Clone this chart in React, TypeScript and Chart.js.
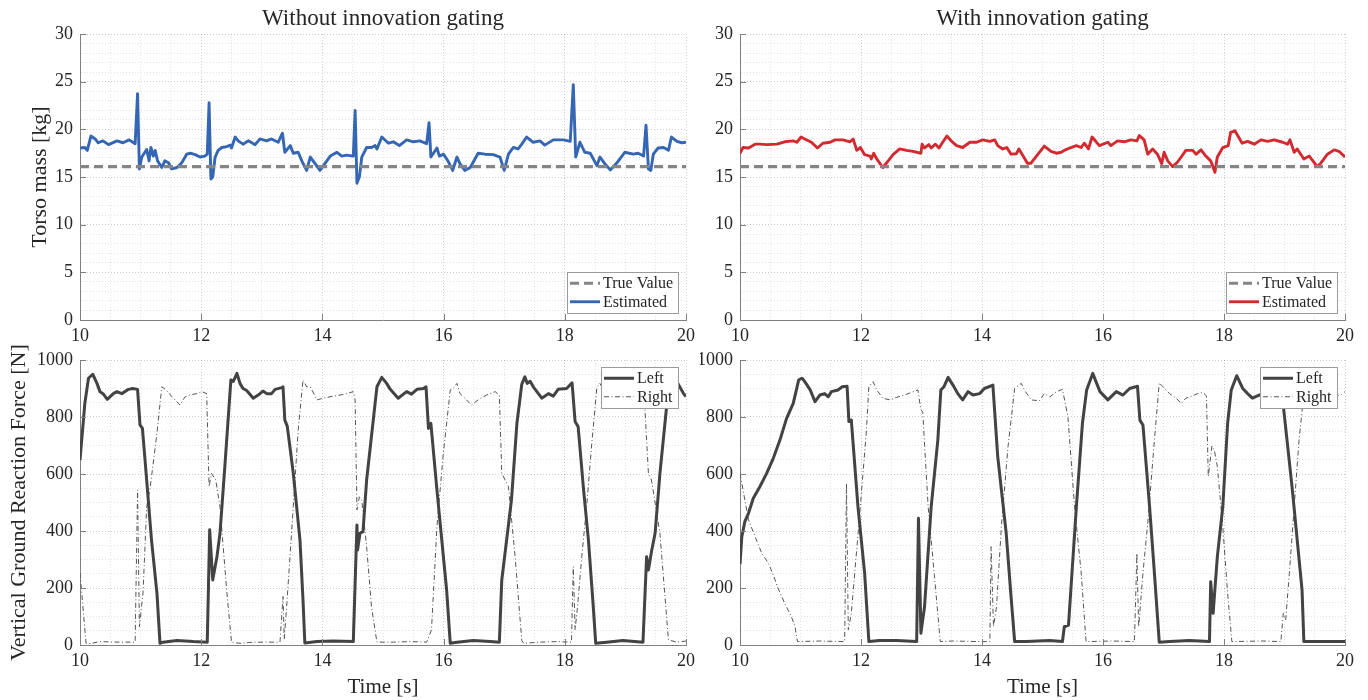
import React, { useEffect, useRef } from "react";
import { Chart, registerables } from "chart.js";

Chart.register(...registerables);

const FONT = "'Liberation Serif', 'Times New Roman', serif";
const TEXT = "#262626";
const AXIS = "#808080";
const MAJOR_GRID = "rgba(0,0,0,0.20)";
const MINOR_GRID = "rgba(0,0,0,0.11)";

// ---------- texts ----------
const panelTitles = ["Without innovation gating", "With innovation gating"];
const massAxisTitle = "Torso mass [kg]";
const grfAxisTitle = "Vertical Ground Reaction Force [N]";
const timeAxisTitle = "Time [s]";
const massLegend = ["True Value", "Estimated"];
const grfLegend = ["Left", "Right"];

// ---------- true torso mass ----------
const trueT = [10, 20];
const trueMass = [16.1, 16.1];

// ---------- estimated torso mass, without gating ----------
const noGateT = [10.0, 10.08, 10.12, 10.18, 10.25, 10.3, 10.38, 10.47, 10.61, 10.71, 10.81, 10.91, 10.95, 10.98, 11.02, 11.1, 11.14, 11.17, 11.21, 11.24, 11.28, 11.35, 11.4, 11.46, 11.51, 11.6, 11.68, 11.76, 11.82, 11.9, 11.98, 12.06, 12.1, 12.13, 12.16, 12.19, 12.23, 12.28, 12.34, 12.42, 12.48, 12.5, 12.56, 12.61, 12.69, 12.78, 12.89, 12.97, 13.08, 13.16, 13.27, 13.34, 13.38, 13.47, 13.52, 13.6, 13.66, 13.74, 13.8, 13.88, 13.96, 14.04, 14.13, 14.24, 14.32, 14.4, 14.51, 14.54, 14.57, 14.61, 14.65, 14.73, 14.81, 14.87, 14.9, 14.98, 15.09, 15.17, 15.27, 15.39, 15.5, 15.61, 15.72, 15.76, 15.79, 15.89, 15.93, 16.0, 16.08, 16.15, 16.22, 16.27, 16.35, 16.44, 16.57, 16.68, 16.82, 16.93, 17.0, 17.07, 17.15, 17.23, 17.29, 17.37, 17.48, 17.59, 17.67, 17.81, 17.98, 18.09, 18.14, 18.18, 18.25, 18.33, 18.42, 18.53, 18.58, 18.66, 18.75, 18.86, 18.99, 19.13, 19.21, 19.3, 19.34, 19.38, 19.42, 19.46, 19.54, 19.63, 19.71, 19.76, 19.85, 19.93, 20.0];
const noGateMass = [18.05, 18.1, 17.8, 19.3, 19.0, 18.6, 18.8, 18.4, 18.8, 18.6, 18.9, 18.5, 23.75, 15.85, 17.1, 17.9, 16.7, 18.1, 17.2, 17.8, 16.7, 16.0, 16.7, 16.5, 15.85, 16.0, 16.5, 17.4, 17.5, 17.35, 17.1, 17.2, 17.4, 22.8, 14.8, 15.0, 17.1, 17.8, 18.1, 18.2, 18.35, 18.05, 19.2, 18.8, 18.45, 18.8, 18.4, 19.0, 18.8, 19.0, 18.65, 19.6, 17.6, 18.3, 17.5, 17.6, 16.7, 15.7, 17.1, 16.4, 15.7, 16.4, 17.2, 17.6, 17.2, 17.3, 17.2, 22.0, 14.35, 15.0, 17.1, 18.1, 18.1, 18.3, 17.95, 19.2, 18.55, 18.7, 18.3, 18.9, 18.7, 18.8, 18.5, 20.7, 17.1, 18.05, 17.2, 17.4, 16.6, 15.7, 17.1, 16.4, 15.7, 16.0, 17.5, 17.4, 17.35, 17.1, 15.7, 17.4, 18.1, 17.95, 18.45, 19.2, 18.65, 18.8, 18.35, 18.9, 18.9, 18.75, 24.7, 17.1, 18.65, 17.6, 17.5, 16.2, 17.1, 16.4, 15.75, 16.5, 17.6, 17.4, 17.5, 17.2, 20.45, 15.85, 15.7, 17.4, 18.05, 18.1, 17.8, 19.2, 18.75, 18.6, 18.65];

// ---------- estimated torso mass, with gating ----------
const gateT = [10.0, 10.05, 10.14, 10.25, 10.33, 10.44, 10.61, 10.74, 10.88, 10.94, 11.01, 11.07, 11.18, 11.28, 11.37, 11.49, 11.57, 11.7, 11.82, 11.87, 11.93, 11.99, 12.06, 12.15, 12.17, 12.21, 12.26, 12.36, 12.45, 12.53, 12.64, 12.75, 12.86, 12.99, 13.01, 13.05, 13.12, 13.16, 13.23, 13.29, 13.35, 13.42, 13.49, 13.58, 13.68, 13.8, 13.91, 14.01, 14.13, 14.21, 14.26, 14.34, 14.41, 14.48, 14.57, 14.61, 14.68, 14.75, 14.81, 14.9, 15.03, 15.14, 15.23, 15.31, 15.36, 15.47, 15.56, 15.64, 15.69, 15.76, 15.82, 15.94, 16.08, 16.13, 16.24, 16.35, 16.46, 16.56, 16.6, 16.68, 16.74, 16.82, 16.9, 16.97, 17.01, 17.07, 17.15, 17.23, 17.37, 17.48, 17.54, 17.62, 17.7, 17.78, 17.85, 17.89, 17.98, 18.07, 18.11, 18.18, 18.24, 18.3, 18.39, 18.5, 18.61, 18.72, 18.83, 18.97, 19.05, 19.09, 19.16, 19.21, 19.32, 19.41, 19.54, 19.6, 19.71, 19.82, 19.9, 20.0];
const gateMass = [17.5, 18.1, 18.05, 18.45, 18.45, 18.4, 18.45, 18.7, 18.8, 18.65, 19.2, 19.0, 18.65, 18.05, 18.55, 18.65, 18.9, 18.9, 18.7, 19.0, 17.8, 18.1, 17.35, 17.2, 16.9, 17.5, 16.9, 16.0, 16.7, 17.35, 17.95, 17.8, 17.7, 17.5, 18.45, 18.05, 18.4, 18.05, 18.45, 18.05, 18.65, 19.3, 18.8, 18.3, 18.1, 18.65, 18.65, 18.9, 18.75, 18.9, 18.3, 17.95, 18.1, 17.4, 17.45, 17.95, 17.2, 16.45, 16.45, 17.2, 18.25, 17.7, 17.5, 17.6, 17.8, 18.1, 18.3, 18.1, 18.55, 17.95, 19.2, 18.3, 18.65, 18.3, 18.8, 18.7, 18.9, 18.8, 19.35, 18.9, 17.4, 17.95, 17.4, 16.4, 17.6, 16.7, 16.1, 16.55, 17.8, 17.8, 17.4, 17.85, 17.2, 16.7, 15.5, 17.1, 18.1, 18.3, 19.7, 19.85, 19.2, 18.55, 18.75, 18.45, 18.9, 18.75, 18.9, 18.65, 18.45, 18.9, 17.6, 17.95, 16.9, 17.2, 16.1, 16.45, 17.4, 17.85, 17.7, 17.1];

// ---------- vertical GRF, without gating ----------
const grfNoGateLeftT = [10.0, 10.08, 10.14, 10.21, 10.28, 10.33, 10.38, 10.45, 10.55, 10.61, 10.69, 10.8, 10.87, 10.95, 10.99, 11.03, 11.1, 11.18, 11.27, 11.32, 11.37, 11.6, 11.87, 12.1, 12.14, 12.19, 12.26, 12.31, 12.39, 12.49, 12.53, 12.59, 12.64, 12.69, 12.75, 12.86, 12.94, 13.02, 13.08, 13.16, 13.22, 13.33, 13.35, 13.38, 13.42, 13.52, 13.63, 13.68, 13.71, 13.91, 14.18, 14.51, 14.57, 14.58, 14.62, 14.67, 14.73, 14.9, 14.98, 15.06, 15.12, 15.25, 15.39, 15.47, 15.56, 15.67, 15.71, 15.75, 15.79, 15.89, 15.97, 16.05, 16.11, 16.22, 16.49, 16.77, 16.92, 16.96, 17.04, 17.12, 17.21, 17.29, 17.34, 17.38, 17.43, 17.48, 17.62, 17.73, 17.81, 17.89, 18.03, 18.12, 18.17, 18.22, 18.31, 18.39, 18.47, 18.51, 18.69, 18.96, 19.29, 19.35, 19.38, 19.43, 19.49, 19.57, 19.68, 19.85, 19.96, 20.0];
const grfNoGateLeft = [649, 848, 936, 950, 918, 889, 882, 862, 882, 889, 882, 897, 900, 897, 772, 760, 579, 368, 181, 6, 10, 16, 12, 10, 404, 228, 310, 392, 626, 930, 925, 953, 918, 900, 893, 866, 877, 891, 882, 882, 897, 903, 906, 789, 768, 602, 368, 158, 7, 12, 14, 12, 421, 333, 392, 398, 579, 906, 939, 918, 897, 866, 889, 880, 897, 900, 906, 760, 778, 544, 368, 193, 6, 10, 16, 12, 10, 228, 368, 509, 778, 915, 941, 918, 925, 906, 866, 882, 873, 897, 900, 920, 784, 766, 544, 368, 134, 6, 10, 16, 10, 310, 263, 327, 392, 602, 836, 924, 882, 872];
const grfNoGateRightT = [10.0, 10.1, 10.17, 10.33, 10.61, 10.91, 10.95, 10.98, 11.04, 11.1, 11.16, 11.27, 11.35, 11.43, 11.51, 11.65, 11.73, 11.82, 11.93, 12.01, 12.09, 12.13, 12.17, 12.24, 12.31, 12.42, 12.5, 12.64, 12.86, 13.3, 13.35, 13.37, 13.41, 13.52, 13.6, 13.68, 13.74, 13.8, 13.91, 14.01, 14.18, 14.29, 14.4, 14.51, 14.54, 14.57, 14.61, 14.65, 14.73, 14.81, 14.9, 15.17, 15.45, 15.72, 15.8, 15.89, 15.99, 16.11, 16.16, 16.22, 16.27, 16.35, 16.46, 16.57, 16.71, 16.85, 16.92, 16.96, 17.07, 17.18, 17.29, 17.32, 17.59, 17.87, 18.11, 18.14, 18.17, 18.21, 18.28, 18.36, 18.45, 18.53, 18.58, 18.63, 18.75, 19.0, 19.24, 19.32, 19.38, 19.43, 19.57, 19.71, 19.85, 20.0];
const grfNoGateRight = [252, 6, 5, 12, 10, 10, 544, 64, 182, 485, 556, 743, 906, 893, 873, 842, 870, 878, 882, 889, 882, 556, 602, 579, 485, 193, 10, 6, 10, 10, 170, 21, 134, 485, 754, 930, 906, 906, 860, 866, 873, 877, 882, 889, 860, 474, 520, 508, 345, 134, 10, 10, 12, 10, 53, 415, 661, 895, 900, 918, 882, 866, 842, 860, 877, 889, 877, 602, 556, 310, 16, 6, 10, 12, 10, 275, 53, 134, 310, 485, 719, 906, 918, 897, 890, 880, 885, 836, 602, 579, 392, 18, 10, 14];

// ---------- vertical GRF, with gating ----------
const grfGateLeftT = [10.0, 10.03, 10.08, 10.14, 10.22, 10.33, 10.44, 10.55, 10.66, 10.77, 10.88, 10.97, 11.02, 11.04, 11.09, 11.16, 11.24, 11.32, 11.4, 11.46, 11.51, 11.62, 11.69, 11.77, 11.8, 11.84, 11.95, 12.06, 12.13, 12.31, 12.59, 12.92, 12.95, 12.99, 13.05, 13.16, 13.27, 13.32, 13.37, 13.44, 13.52, 13.6, 13.68, 13.77, 13.85, 13.96, 14.04, 14.18, 14.26, 14.4, 14.48, 14.54, 14.73, 15.12, 15.33, 15.36, 15.43, 15.56, 15.66, 15.73, 15.83, 15.95, 16.08, 16.22, 16.33, 16.44, 16.57, 16.61, 16.66, 16.77, 16.85, 16.93, 17.1, 17.43, 17.76, 17.78, 17.82, 17.89, 17.98, 18.06, 18.12, 18.21, 18.31, 18.39, 18.47, 18.58, 18.75, 18.88, 18.97, 19.13, 19.29, 19.32, 19.62, 20.0];
const grfGateLeft = [284, 380, 433, 462, 515, 556, 602, 655, 719, 795, 848, 930, 936, 933, 918, 895, 854, 877, 882, 871, 889, 895, 906, 908, 784, 789, 485, 252, 12, 16, 16, 12, 445, 41, 134, 485, 719, 895, 906, 939, 912, 882, 860, 889, 877, 882, 900, 912, 661, 392, 170, 12, 12, 16, 12, 64, 70, 485, 778, 895, 953, 889, 860, 889, 877, 900, 908, 789, 772, 485, 252, 10, 12, 16, 12, 222, 111, 310, 485, 778, 895, 945, 900, 882, 866, 877, 890, 900, 860, 544, 193, 12, 12, 12];
const grfGateRightT = [10.0, 10.05, 10.14, 10.25, 10.36, 10.47, 10.55, 10.63, 10.74, 10.85, 10.91, 10.95, 11.32, 11.73, 11.76, 11.79, 11.84, 11.98, 12.09, 12.13, 12.2, 12.26, 12.36, 12.48, 12.59, 12.72, 12.83, 12.94, 12.99, 13.02, 13.11, 13.22, 13.31, 13.52, 13.96, 14.13, 14.15, 14.19, 14.24, 14.32, 14.43, 14.54, 14.65, 14.7, 14.81, 14.95, 15.03, 15.12, 15.23, 15.33, 15.42, 15.53, 15.64, 15.72, 16.16, 16.52, 16.56, 16.59, 16.66, 16.74, 16.85, 16.93, 16.99, 17.1, 17.21, 17.29, 17.37, 17.48, 17.56, 17.65, 17.71, 17.74, 17.8, 17.84, 17.89, 17.98, 18.06, 18.13, 18.64, 18.94, 18.98, 19.02, 19.08, 19.16, 19.24, 19.31, 19.49, 19.74, 19.93, 20.0];
const grfGateRight = [602, 544, 439, 380, 322, 287, 246, 199, 146, 99, 64, 12, 14, 12, 567, 53, 111, 462, 754, 906, 924, 895, 866, 860, 869, 877, 886, 895, 825, 819, 485, 228, 12, 14, 12, 12, 345, 64, 134, 415, 696, 901, 918, 895, 860, 857, 882, 870, 889, 897, 801, 485, 252, 12, 14, 12, 322, 64, 252, 427, 719, 920, 906, 882, 866, 848, 866, 874, 882, 886, 874, 591, 698, 684, 626, 415, 181, 12, 14, 12, 111, 88, 252, 485, 719, 860, 880, 875, 877, 889];

// ---------- styles ----------
const BLUE = "#3566b4";
const RED = "#d22a2f";
const TRUE_GRAY = "#858585";
const LEFT_GRAY = "#434343";
const RIGHT_GRAY = "#555555";
const TRUE_DASH = [9, 5];
const RIGHT_DASH = [5, 2.5, 1, 2.5];

const pts = (t: number[], v: number[]) => t.map((x, i) => ({ x, y: v[i] }));
const isMult = (v: number, m: number) => Math.abs(v / m - Math.round(v / m)) < 1e-6;

type LegItem = { label: string; color: string; width: number; dash: number[] };

function legendPlugin(items: LegItem[], where: "top" | "bottom") {
  return {
    id: "matLegend",
    afterDraw(chart: any) {
      const { ctx, chartArea: a } = chart;
      ctx.save();
      ctx.font = `16px ${FONT}`;
      const textW = Math.max(...items.map((i) => ctx.measureText(i.label).width));
      const sample = 30, padL = 3, gap = 3, padR = 5, rowH = 18.5;
      const w = Math.round(padL + sample + gap + textW + padR);
      const h = Math.round(items.length * rowH + 4);
      const x = Math.round(a.right - 8 - w);
      const y = Math.round(where === "top" ? a.top + 7 : a.bottom - 7 - h);
      ctx.fillStyle = "#ffffff";
      ctx.fillRect(x, y, w, h);
      ctx.strokeStyle = "#9a9a9a";
      ctx.lineWidth = 1;
      ctx.setLineDash([]);
      ctx.strokeRect(x + 0.5, y + 0.5, w, h);
      items.forEach((it, i) => {
        const cy = y + 2 + rowH * (i + 0.5);
        ctx.beginPath();
        ctx.setLineDash(it.dash);
        ctx.strokeStyle = it.color;
        ctx.lineWidth = it.width;
        ctx.moveTo(x + padL, cy);
        ctx.lineTo(x + padL + sample, cy);
        ctx.stroke();
        ctx.setLineDash([]);
        ctx.fillStyle = TEXT;
        ctx.textBaseline = "middle";
        ctx.textAlign = "left";
        ctx.fillText(it.label, x + padL + sample + gap, cy + 1);
      });
      ctx.restore();
    },
  };
}

function tickPlugin(xMajor: number, yMajor: number) {
  return {
    id: "inwardTicks",
    afterDatasetsDraw(chart: any) {
      const { ctx, chartArea: a, scales } = chart;
      ctx.save();
      ctx.strokeStyle = AXIS;
      ctx.lineWidth = 1;
      ctx.beginPath();
      scales.x.ticks.forEach((t: any) => {
        if (!isMult(t.value, xMajor)) return;
        const px = Math.round(scales.x.getPixelForValue(t.value)) + 0.5;
        ctx.moveTo(px, a.bottom);
        ctx.lineTo(px, a.bottom - 6);
      });
      scales.y.ticks.forEach((t: any) => {
        if (!isMult(t.value, yMajor)) return;
        const py = Math.round(scales.y.getPixelForValue(t.value)) + 0.5;
        ctx.moveTo(a.left, py);
        ctx.lineTo(a.left + 6, py);
      });
      ctx.stroke();
      ctx.restore();
    },
  };
}

function zeroPad(s: any) {
  s.paddingLeft = 0;
  s.paddingRight = 0;
  s.paddingTop = 0;
  s.paddingBottom = 0;
}

function xScale(showTitle: boolean, height: number) {
  return {
    type: "linear",
    min: 10,
    max: 20,
    ticks: {
      stepSize: 0.5,
      autoSkip: false,
      maxRotation: 0,
      minRotation: 0,
      padding: 5,
      color: TEXT,
      font: { family: FONT, size: 18 },
      callback: (v: number) => (isMult(v, 2) ? String(Math.round(v)) : ""),
    },
    grid: {
      drawTicks: false,
      lineWidth: 1,
      color: (c: any) => (c.tick && isMult(c.tick.value, 2) ? MAJOR_GRID : MINOR_GRID),
    },
    border: { display: true, color: AXIS, width: 1, dash: [1, 2] },
    title: {
      display: showTitle,
      text: timeAxisTitle,
      color: TEXT,
      font: { family: FONT, size: 21 },
      padding: { top: 0, bottom: 0 },
    },
    afterFit: (s: any) => {
      s.height = height;
      zeroPad(s);
    },
  };
}

function yScale(max: number, step: number, major: number, title: string, showTitle: boolean, titlePad: number, width: number) {
  return {
    type: "linear",
    min: 0,
    max,
    ticks: {
      stepSize: step,
      autoSkip: false,
      padding: 7,
      color: TEXT,
      font: { family: FONT, size: 18 },
      callback: (v: number) => (isMult(v, major) ? String(Math.round(v)) : ""),
    },
    grid: {
      drawTicks: false,
      lineWidth: 1,
      color: (c: any) => (c.tick && isMult(c.tick.value, major) ? MAJOR_GRID : MINOR_GRID),
    },
    border: { display: true, color: AXIS, width: 1, dash: [1, 2] },
    title: {
      display: showTitle,
      text: title,
      color: TEXT,
      font: { family: FONT, size: 22 },
      padding: { top: titlePad, bottom: 0 },
    },
    afterFit: (s: any) => {
      s.width = width;
      zeroPad(s);
    },
  };
}

function massConfig(idx: number, estT: number[], estV: number[], color: string) {
  const leftSide = idx === 0;
  return {
    type: "line",
    data: {
      datasets: [
        {
          label: massLegend[0],
          data: pts(trueT, trueMass),
          borderColor: TRUE_GRAY,
          borderWidth: 3.2,
          borderDash: TRUE_DASH,
          pointRadius: 0,
          tension: 0,
        },
        {
          label: massLegend[1],
          data: pts(estT, estV),
          borderColor: color,
          borderWidth: 2.9,
          borderJoinStyle: "round",
          pointRadius: 0,
          tension: 0,
        },
      ],
    },
    options: {
      animation: false,
      responsive: false,
      devicePixelRatio: 1,
      events: [],
      layout: { padding: { left: 0, right: leftSide ? 14 : 23, top: 0, bottom: 0 } },
      scales: {
        x: xScale(false, 25),
        y: yScale(30, 1, 5, massAxisTitle, leftSide, 27.3, leftSide ? 80 : 40),
      },
      plugins: {
        legend: { display: false },
        tooltip: { enabled: false },
        title: {
          display: true,
          text: panelTitles[idx],
          fullSize: false,
          color: TEXT,
          font: { family: FONT, size: 23, weight: "normal", lineHeight: 1.2 },
          padding: { top: 5.5, bottom: 1 },
        },
      },
    },
    plugins: [
      tickPlugin(2, 5),
      legendPlugin(
        [
          { label: massLegend[0], color: TRUE_GRAY, width: 3.2, dash: TRUE_DASH },
          { label: massLegend[1], color, width: 2.9, dash: [] },
        ],
        "bottom"
      ),
    ],
  };
}

function grfConfig(idx: number, lT: number[], lV: number[], rT: number[], rV: number[]) {
  const leftSide = idx === 0;
  return {
    type: "line",
    data: {
      datasets: [
        {
          label: grfLegend[0],
          data: pts(lT, lV),
          borderColor: LEFT_GRAY,
          borderWidth: 3,
          borderJoinStyle: "round",
          pointRadius: 0,
          tension: 0,
        },
        {
          label: grfLegend[1],
          data: pts(rT, rV),
          borderColor: RIGHT_GRAY,
          borderWidth: 1,
          borderDash: RIGHT_DASH,
          pointRadius: 0,
          tension: 0,
        },
      ],
    },
    options: {
      animation: false,
      responsive: false,
      devicePixelRatio: 1,
      events: [],
      layout: { padding: { left: 0, right: leftSide ? 14 : 23, top: 15, bottom: 0 } },
      scales: {
        x: xScale(true, 55),
        y: yScale(1000, 50, 200, grfAxisTitle, leftSide, 6.3, leftSide ? 80 : 40),
      },
      plugins: {
        legend: { display: false },
        tooltip: { enabled: false },
        title: { display: false },
      },
    },
    plugins: [
      tickPlugin(2, 200),
      legendPlugin(
        [
          { label: grfLegend[0], color: LEFT_GRAY, width: 3, dash: [] },
          { label: grfLegend[1], color: RIGHT_GRAY, width: 1, dash: RIGHT_DASH },
        ],
        "top"
      ),
    ],
  };
}

function ChartBox(props: { left: number; top: number; width: number; height: number; build: () => any }) {
  const ref = useRef<HTMLCanvasElement>(null);
  useEffect(() => {
    const chart = new Chart(ref.current as HTMLCanvasElement, props.build());
    return () => chart.destroy();
  }, []);
  return (
    <canvas
      ref={ref}
      width={props.width}
      height={props.height}
      style={{ position: "absolute", left: props.left, top: props.top, width: props.width, height: props.height }}
    />
  );
}

export default function App() {
  return (
    <div
      style={{
        position: "absolute",
        left: 0,
        top: 0,
        width: 1368,
        height: 700,
        overflow: "hidden",
        background: "#ffffff",
      }}
    >
      <ChartBox left={0} top={0} width={700} height={345} build={() => massConfig(0, noGateT, noGateMass, BLUE)} />
      <ChartBox left={700} top={0} width={668} height={345} build={() => massConfig(1, gateT, gateMass, RED)} />
      <ChartBox
        left={0}
        top={345}
        width={700}
        height={355}
        build={() => grfConfig(0, grfNoGateLeftT, grfNoGateLeft, grfNoGateRightT, grfNoGateRight)}
      />
      <ChartBox
        left={700}
        top={345}
        width={668}
        height={355}
        build={() => grfConfig(1, grfGateLeftT, grfGateLeft, grfGateRightT, grfGateRight)}
      />
    </div>
  );
}
